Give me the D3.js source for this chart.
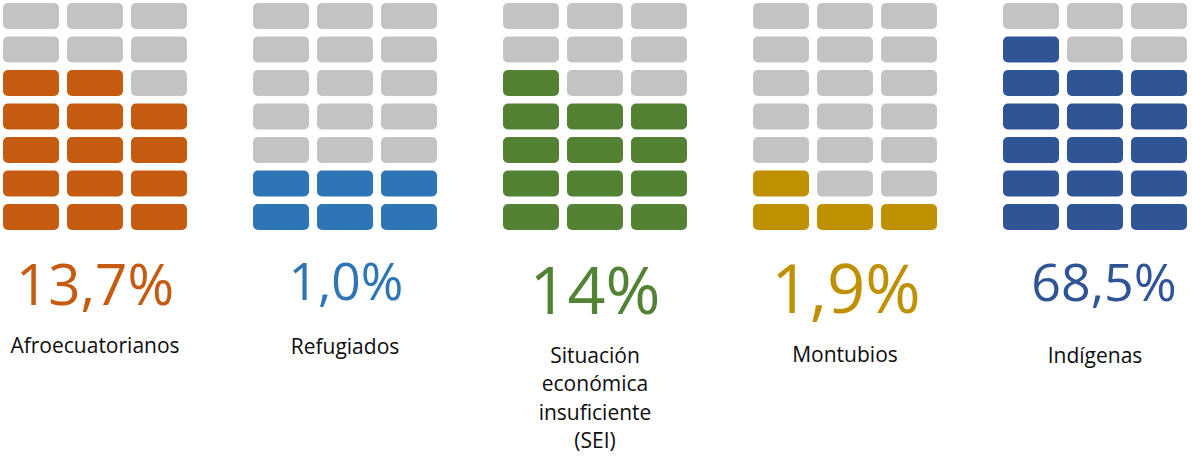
<!DOCTYPE html>
<html>
<head>
<meta charset="utf-8">
<script src="https://cdn.jsdelivr.net/npm/d3@7"></script>
<style>
  html, body { margin: 0; padding: 0; background: #fff; }
  svg { display: block; }
</style>
</head>
<body>
<svg id="chart" width="1192" height="456"></svg>
<script>
// ---- data ----
const categories = ["Afroecuatorianos", "Refugiados", "Situación económica insuficiente (SEI)", "Montubios", "Indígenas"];
const labelLines = [["Afroecuatorianos"], ["Refugiados"], ["Situación", "económica", "insuficiente", "(SEI)"], ["Montubios"], ["Indígenas"]];
const percentLabels = ["13,7%", "1,0%", "14%", "1,9%", "68,5%"];
const filledCells = [14, 6, 13, 4, 16];   // coloured blocks out of 21
const gridColumns = 3;
const gridRows = 7;

// ---- styling / layout (not data) ----
const colors = ["#C55A11", "#2E75B6", "#548235", "#BF9000", "#2F5597"];
const emptyColor = "#C3C3C3";
const pctStyle = [
  { size: 56.5, base: 305, dx: 0 },
  { size: 51.5, base: 300, dx: 1 },
  { size: 66.5, base: 314, dx: 0 },
  { size: 67, base: 313, dx: 1 },
  { size: 52, base: 301, dx: 9 }
];
const labelBase = [353, 354, 363, 362, 363];
const lineH = 28.3;

const svg = d3.select("#chart");

const groupX = d3.scaleLinear().domain([0, categories.length - 1]).range([3, 1003]);
const colX = d3.scaleBand().domain(d3.range(gridColumns)).range([0, 184]).paddingInner(0.125);
const rowY = d3.scaleBand().domain(d3.range(gridRows)).range([3, 230]).paddingInner(7.5 / 33.5);
const gridW = 184;

categories.forEach((cat, gi) => {
  const g = svg.append("g").attr("transform", `translate(${groupX(gi)},0)`);
  const cells = d3.range(gridColumns * gridRows).map(i => ({
    i,
    col: i % gridColumns,
    rowFromBottom: Math.floor(i / gridColumns),
    filled: i < filledCells[gi]
  }));
  g.selectAll("rect").data(cells).join("rect")
    .attr("x", d => colX(d.col))
    .attr("y", d => rowY(gridRows - 1 - d.rowFromBottom))
    .attr("width", colX.bandwidth())
    .attr("height", rowY.bandwidth())
    .attr("rx", 5).attr("ry", 5)
    .attr("fill", d => d.filled ? colors[gi] : emptyColor);

  g.append("text")
    .attr("x", gridW / 2 + pctStyle[gi].dx)
    .attr("y", pctStyle[gi].base)
    .attr("text-anchor", "middle")
    .attr("font-family", "'Open Sans', sans-serif")
    .attr("font-size", pctStyle[gi].size)
    .attr("fill", colors[gi])
    .text(percentLabels[gi]);

  g.append("text")
    .attr("text-anchor", "middle")
    .attr("font-family", "'Open Sans', sans-serif")
    .attr("font-size", 21)
    .attr("fill", "#0d0d0d")
    .selectAll("tspan").data(labelLines[gi]).join("tspan")
    .attr("x", gridW / 2)
    .attr("y", (d, k) => labelBase[gi] + k * lineH)
    .text(d => d);
});
</script>
</body>
</html>
